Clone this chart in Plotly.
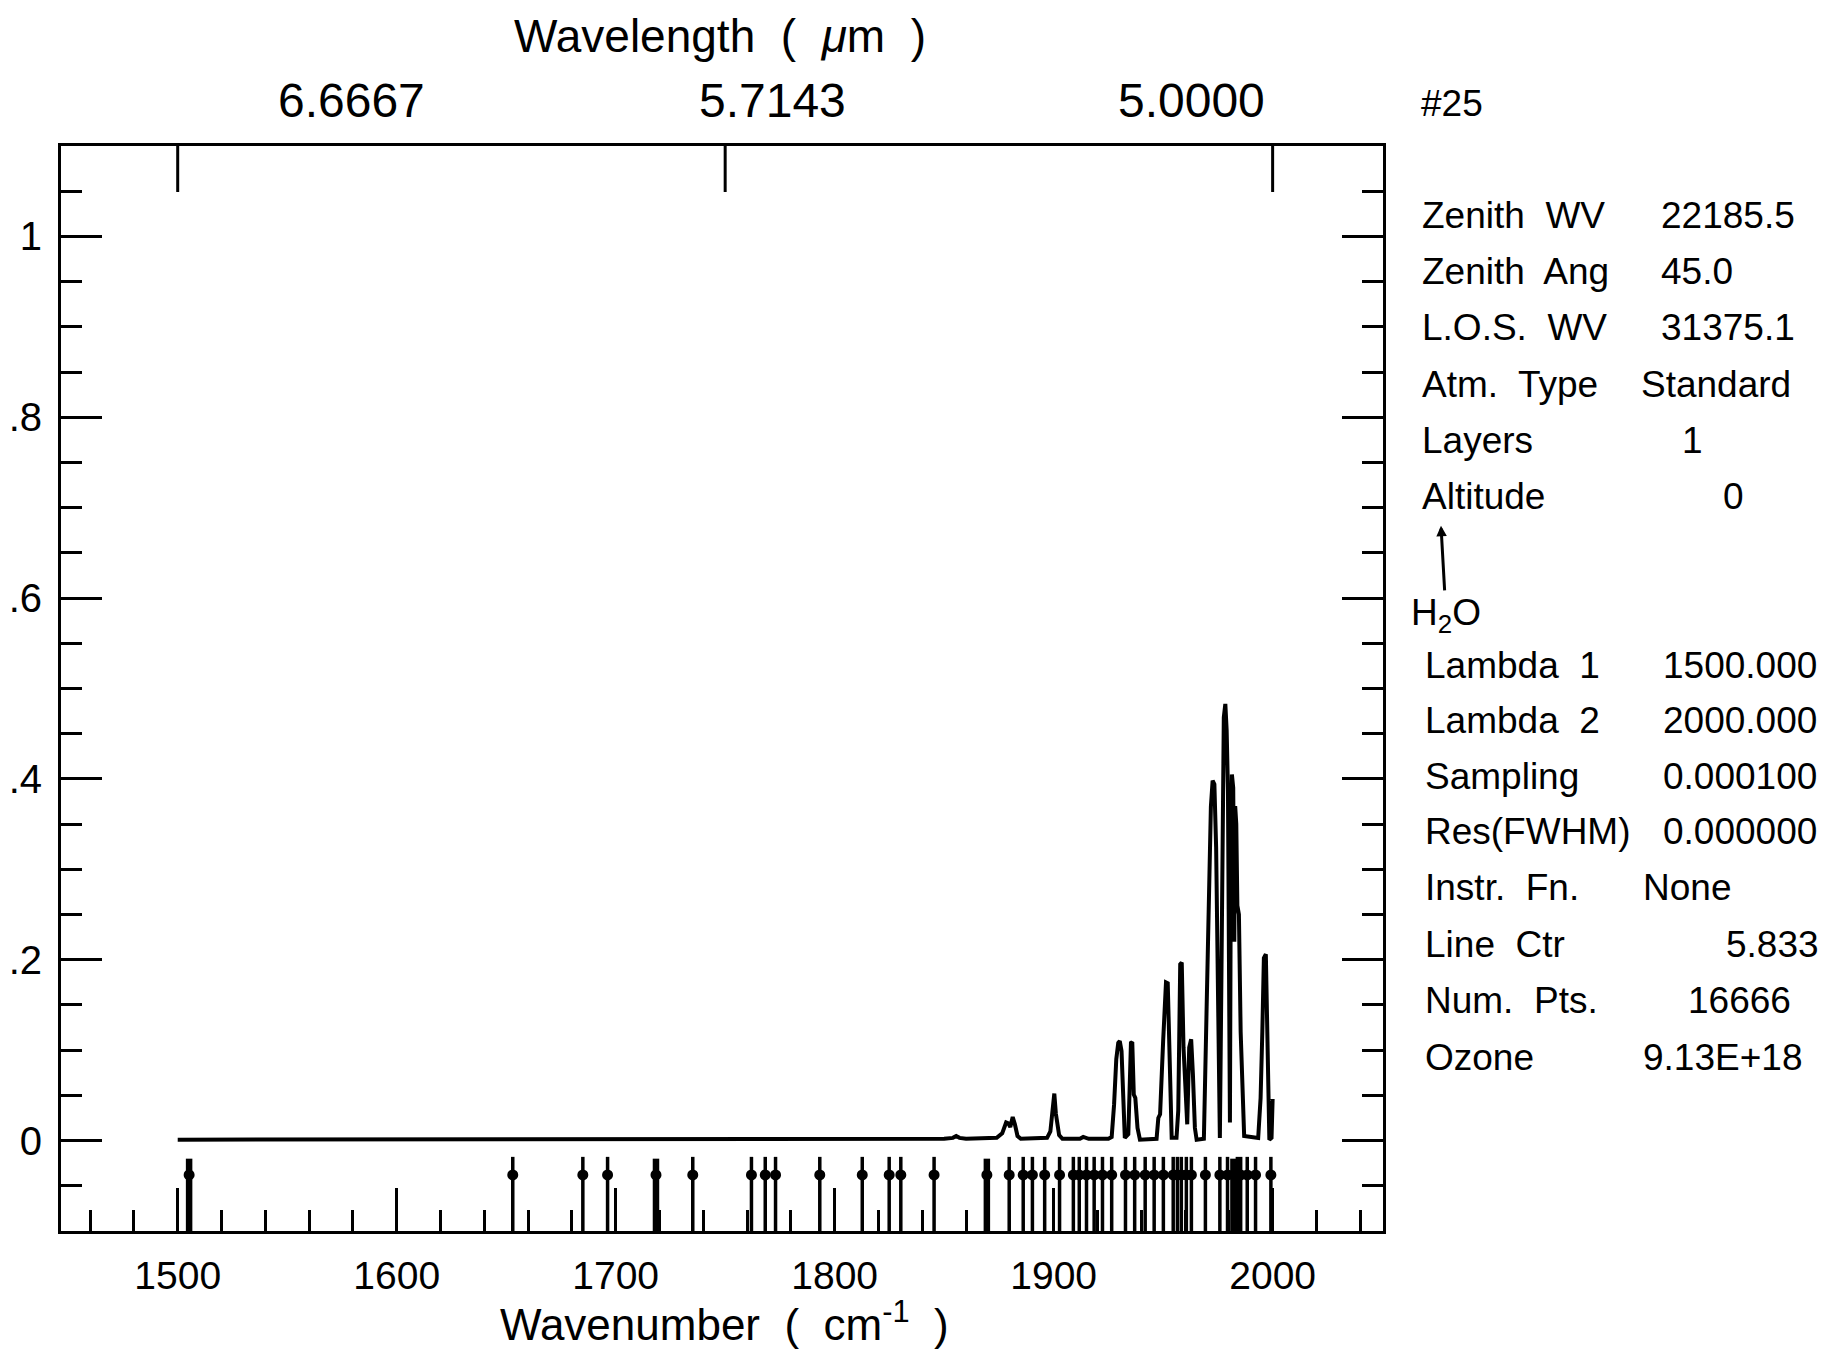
import plotly.graph_objects as go

# ---------------- data ----------------
# Spectrum vertices: wavenumber (cm^-1) and value
spec_wn = [1500.0, 1650.0, 1800.0, 1850.0, 1854.0, 1855.5, 1857.0, 1860.0, 1874.0, 1876.5,
           1878.3, 1879.3, 1880.2, 1881.3, 1882.3, 1883.5, 1885.0, 1897.0, 1898.5, 1899.5,
           1900.3, 1901.0, 1901.6, 1902.5, 1904.0, 1912.0, 1913.5, 1916.0, 1925.0, 1926.5,
           1927.6, 1928.6, 1929.5, 1930.2, 1931.0, 1931.6, 1932.5, 1934.1, 1934.7, 1935.3,
           1935.9, 1936.6, 1937.3, 1938.3, 1939.4, 1947.0, 1947.8, 1948.6, 1950.0, 1951.3,
           1952.1, 1952.8, 1953.9, 1956.1, 1956.9, 1957.8, 1958.5, 1959.3, 1960.4, 1961.0,
           1961.9, 1962.8, 1963.6, 1964.5, 1965.3, 1968.6, 1969.8, 1970.7, 1971.8, 1972.6,
           1973.4, 1974.2, 1975.2, 1975.9, 1976.6, 1977.1, 1977.7, 1978.4, 1979.0, 1979.6,
           1980.1, 1980.5, 1980.9, 1981.4, 1982.0, 1982.5, 1982.9, 1983.4, 1983.9, 1984.6,
           1985.4, 1986.1, 1987.0, 1993.4, 1994.5, 1995.3, 1996.0, 1996.9, 1997.7, 1998.5,
           1999.5, 2000.0]
spec_val = [0.001, 0.001, 0.001, 0.002, 0.003, 0.005, 0.003, 0.002, 0.003, 0.008,
            0.020, 0.019, 0.015, 0.026, 0.018, 0.005, 0.002, 0.003, 0.010, 0.035,
            0.052, 0.030, 0.020, 0.006, 0.002, 0.002, 0.004, 0.002, 0.002, 0.004,
            0.040, 0.090, 0.108, 0.110, 0.099, 0.066, 0.003, 0.007, 0.080, 0.108,
            0.109, 0.051, 0.047, 0.014, 0.001, 0.002, 0.025, 0.029, 0.110, 0.175,
            0.174, 0.110, 0.003, 0.003, 0.033, 0.195, 0.197, 0.103, 0.029, 0.018,
            0.103, 0.112, 0.073, 0.014, 0.001, 0.002, 0.140, 0.258, 0.369, 0.398,
            0.394, 0.324, 0.140, 0.003, 0.177, 0.361, 0.468, 0.483, 0.454, 0.387,
            0.100, 0.020, 0.300, 0.405, 0.390, 0.220, 0.370, 0.350, 0.260, 0.250,
            0.120, 0.050, 0.005, 0.003, 0.047, 0.121, 0.202, 0.206, 0.084, 0.001,
            0.003, 0.046]

# H2O line positions (cm^-1)
h2o_lines = [1653.0, 1685.0, 1696.3, 1735.2, 1762.0, 1768.3, 1773.0, 1793.2, 1812.6,
             1824.9, 1830.2, 1845.4, 1879.7, 1886.1, 1890.3, 1895.9, 1902.7, 1909.0,
             1911.7, 1915.0, 1918.5, 1922.3, 1926.5, 1932.8, 1937.0, 1941.8, 1945.9,
             1950.1, 1954.6, 1956.5, 1958.3, 1960.6, 1962.9, 1969.3, 1975.9, 1979.4,
             1983.9, 1985.4, 1988.4, 1992.2, 1999.2]
h2o_lines_strong = [1505.2, 1718.4, 1869.5, 1982.1]

# Top axis (wavelength, micrometres)
wl_ticks_um = [6.6667, 5.7143, 5.0000]
wl_tick_labels = ["6.6667", "5.7143", "5.0000"]

# Left axis
y_tickvals = [0, 0.2, 0.4, 0.6, 0.8, 1.0]
y_ticktext = ["0", ".2", ".4", ".6", ".8", "1"]

# Right-hand information panel
panel_title = "#25"
panel_top_labels = ["Zenith  WV", "Zenith  Ang", "L.O.S.  WV", "Atm.  Type", "Layers", "Altitude"]
panel_top_values = ["22185.5", "45.0", "31375.1", "Standard", "1", "0"]
panel_species = "H<sub>2</sub>O"
panel_bot_labels = ["Lambda  1", "Lambda  2", "Sampling", "Res(FWHM)", "Instr.  Fn.",
                    "Line  Ctr", "Num.  Pts.", "Ozone"]
panel_bot_values = ["1500.000", "2000.000", "0.000100", "0.000000", "None",
                    "5.833", "16666", "9.13E+18"]

# ---------------- layout geometry (pixels) ----------------
W, H = 1833, 1356
L, R, T, B = 61, 1383, 146, 1231.5
XR = [1446.7, 2050.4]
YR = [-0.1, 1.1]

AXFONT = "Liberation Sans, Arial, sans-serif"
PFONT = "Liberation Sans, Arial, sans-serif"
INK = "black"


def px(x):
    return (x - L) / (R - L)


def py(y):
    return (B - y) / (B - T)


fig = go.Figure()

# spectrum
fig.add_trace(go.Scatter(x=spec_wn, y=spec_val, mode="lines",
                         line=dict(color=INK, width=4), hoverinfo="skip", showlegend=False))

# line position sticks
LINE_TOP, LINE_BOT, DOT_Y = -0.018, -0.1, -0.038
sx, sy = [], []
for w in h2o_lines:
    sx += [w, w, None]
    sy += [LINE_TOP, LINE_BOT, None]
fig.add_trace(go.Scatter(x=sx, y=sy, mode="lines", line=dict(color=INK, width=3.5),
                         hoverinfo="skip", showlegend=False))
tx, ty = [], []
for w in h2o_lines_strong:
    tx += [w, w, None]
    ty += [LINE_TOP - 0.002, LINE_BOT, None]
fig.add_trace(go.Scatter(x=tx, y=ty, mode="lines", line=dict(color=INK, width=6.5),
                         hoverinfo="skip", showlegend=False))
fig.add_trace(go.Scatter(x=h2o_lines + h2o_lines_strong,
                         y=[DOT_Y] * (len(h2o_lines) + len(h2o_lines_strong)),
                         mode="markers", marker=dict(color=INK, size=11, symbol="circle"),
                         hoverinfo="skip", showlegend=False))

# top (wavelength) ticks, placed on the wavenumber axis
wl_pos = [1e4 / w for w in wl_ticks_um]
TOP_TICK = 46 / (B - T)
for xp in wl_pos:
    fig.add_shape(type="line", xref="x", yref="paper", x0=xp, x1=xp, y0=1, y1=1 - TOP_TICK,
                  line=dict(color=INK, width=3))

fig.update_layout(
    width=W, height=H,
    margin=dict(l=L, r=W - R, t=T, b=H - B, autoexpand=False),
    paper_bgcolor="white", plot_bgcolor="white",
    showlegend=False,
    xaxis=dict(range=XR, showgrid=False, zeroline=False,
               showline=True, linecolor=INK, linewidth=3, mirror=True,
               ticks="inside", ticklen=43, tickwidth=3, tickcolor=INK,
               tick0=0, dtick=100,
               minor=dict(ticks="inside", ticklen=21, tickwidth=3, tickcolor=INK, dtick=20, tick0=0),
               tickfont=dict(family=AXFONT, size=39, color=INK),
               ticklabelstandoff=8),
    yaxis=dict(range=YR, showgrid=False, zeroline=False,
               showline=True, linecolor=INK, linewidth=3, mirror="ticks",
               tickmode="array", tickvals=y_tickvals, ticktext=y_ticktext,
               ticks="inside", ticklen=41, tickwidth=3, tickcolor=INK,
               minor=dict(ticks="inside", ticklen=21, tickwidth=3, tickcolor=INK,
                          tickmode="linear", tick0=0, dtick=0.05),
               tickfont=dict(family=AXFONT, size=40, color=INK),
               ticklabelstandoff=8),
)

ann = []
# axis titles
ann.append(dict(text="Wavenumber  (  cm<sup>-1</sup>  )", x=px(724), y=py(1322),
                xanchor="center", yanchor="middle", font=dict(family=AXFONT, size=44, color=INK)))
ann.append(dict(text="Wavelength  (  <i>μ</i>m  )", x=px(720), y=py(36),
                xanchor="center", yanchor="middle", font=dict(family=AXFONT, size=46, color=INK)))
# top wavelength labels (offset from their ticks as in the original)
for lab, cx in zip(wl_tick_labels, [351, 772, 1191]):
    ann.append(dict(text=lab, x=px(cx), y=py(100), xanchor="center", yanchor="middle",
                    font=dict(family=AXFONT, size=48, color=INK)))
for a in ann:
    a.update(xref="paper", yref="paper", showarrow=False)

pan = []
pan.append(dict(text=panel_title, x=px(1419), y=py(103), xanchor="left"))
top_rows_y = [216, 272, 328, 385, 441, 497]
top_val_pos = [(1659, "left"), (1659, "left"), (1659, "left"), (1639, "left"),
               (1692, "center"), (1733, "center")]
for lab, val, yy, (vx, va) in zip(panel_top_labels, panel_top_values, top_rows_y, top_val_pos):
    pan.append(dict(text=lab, x=px(1420), y=py(yy), xanchor="left"))
    pan.append(dict(text=val, x=px(vx), y=py(yy), xanchor=va))
bot_rows_y = [666, 721, 777, 832, 888, 945, 1001, 1058]
bot_val_pos = [(1661, "left"), (1661, "left"), (1661, "left"), (1661, "left"),
               (1641, "left"), (1821, "right"), (1739, "center"), (1641, "left")]
for lab, val, yy, (vx, va) in zip(panel_bot_labels, panel_bot_values, bot_rows_y, bot_val_pos):
    pan.append(dict(text=lab, x=px(1423), y=py(yy), xanchor="left"))
    pan.append(dict(text=val, x=px(vx), y=py(yy), xanchor=va))
for a in pan:
    a.update(xref="paper", yref="paper", showarrow=False, yanchor="middle",
             font=dict(family=PFONT, size=37, color=INK))

# species label with its small upward arrow (head at the tip position)
species = dict(xref="paper", yref="paper", x=px(1441), y=py(526), ax=5, ay=89,
               text=panel_species, showarrow=True, standoff=0,
               arrowhead=2, arrowsize=0.7, arrowwidth=3, arrowcolor=INK,
               font=dict(family=PFONT, size=37, color=INK))

fig.update_layout(annotations=ann + pan + [species])

fig.write_html("out.html", config={"displayModeBar": False},
               post_script="document.body.style.margin='0';")
